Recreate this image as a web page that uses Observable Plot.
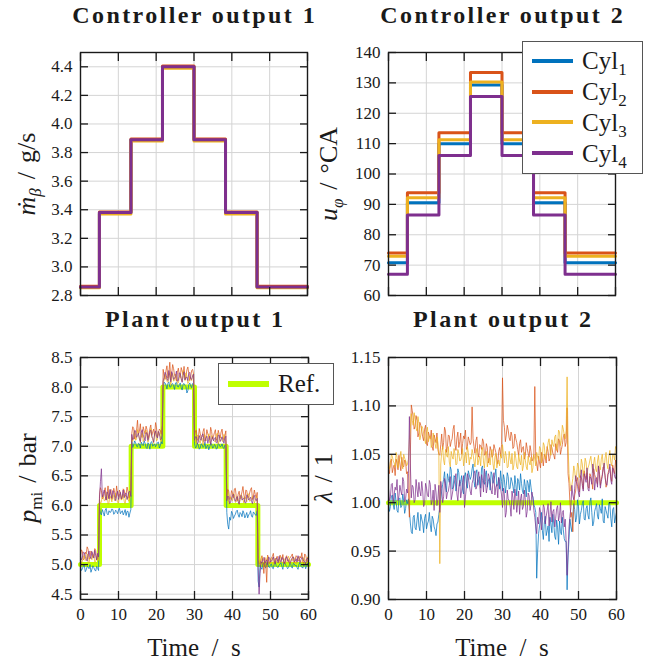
<!DOCTYPE html>
<html><head><meta charset="utf-8">
<script src="https://cdn.jsdelivr.net/npm/d3@7"></script>
<script src="https://cdn.jsdelivr.net/npm/@observablehq/plot@0.6"></script>
<style>
body{margin:0;background:#fff;}
#fig{position:relative;width:662px;height:665px;background:#fff;font-family:"Liberation Serif",serif;color:#1a1a1a;overflow:hidden}
.panel{position:absolute}
.title{position:absolute;width:300px;text-align:center;font-weight:bold;font-size:24px;line-height:24px;letter-spacing:2.4px;white-space:nowrap}
.xlab{position:absolute;width:200px;text-align:center;font-size:25px;line-height:25px;white-space:nowrap}
.ylab{position:absolute;font-size:26px;line-height:26px;white-space:nowrap;transform:translate(-50%,-50%) rotate(-90deg)}
.sub{font-size:17px;position:relative;top:6px}
.sp{display:inline-block;width:9px}
.box{position:absolute;box-sizing:border-box;background:#fff;border:1px solid #555}
.lkey{position:absolute;height:4px}
.ltxt{position:absolute;font-size:25px;line-height:25px;white-space:nowrap}
</style></head>
<body><div id="fig"></div>
<script>
// ---------- data ----------
const cylNames = ["Cyl1","Cyl2","Cyl3","Cyl4"];
const cylColors = ["#0072BD","#D95319","#EDB120","#7E2F8E"];
const refColor = "#BFFF00";

const xTicks = [0,10,20,30,40,50,60];
const mBetaTicks = [2.8,3.0,3.2,3.4,3.6,3.8,4.0,4.2,4.4];
const uPhiTicks = [60,70,80,90,100,110,120,130,140];
const pmiTicks = [4.5,5.0,5.5,6.0,6.5,7.0,7.5,8.0,8.5];
const lambdaTicks = [0.90,0.95,1.00,1.05,1.10,1.15];

// controller outputs: step breakpoints (value held until next breakpoint)
const stepTimes = [0,5,13.33,21.67,30,38.33,46.67,60];
const mBetaCyl1 = [2.86,3.38,3.89,4.40,3.89,3.38,2.86,2.86];
const mBetaCyl2 = [2.865,3.385,3.895,4.405,3.895,3.385,2.865,2.865];
const mBetaCyl3 = [2.855,3.37,3.88,4.39,3.88,3.37,2.855,2.855];
const mBetaCyl4 = [2.86,3.38,3.89,4.40,3.89,3.38,2.86,2.86];

const uPhiCyl1 = [70.8,90.5,110.0,129.3,110.0,90.5,70.8,70.8];
const uPhiCyl2 = [74.0,93.8,113.6,133.4,113.6,93.8,74.0,74.0];
const uPhiCyl3 = [72.9,92.2,111.3,130.3,111.3,92.2,72.9,72.9];
const uPhiCyl4 = [67.0,86.5,106.1,125.5,106.1,86.5,67.0,67.0];

// references
const refPmi = [5,6,7,8,7,6,5,5];
const refLambdaTimes = [0,60];
const refLambda = [1,1];

// plant outputs: samples on the half-second grid and on the quarter-second points between them
const sampleTimes = [0,0.5,1,1.5,2,2.5,3,3.5,4,4.5,5,5.5,6,6.5,7,7.5,8,8.5,9,9.5,10,10.5,11,11.5,12,12.5,13,13.5,14,14.5,15,15.5,16,16.5,17,17.5,18,18.5,19,19.5,20,20.5,21,21.5,22,22.5,23,23.5,24,24.5,25,25.5,26,26.5,27,27.5,28,28.5,29,29.5,30,30.5,31,31.5,32,32.5,33,33.5,34,34.5,35,35.5,36,36.5,37,37.5,38,38.5,39,39.5,40,40.5,41,41.5,42,42.5,43,43.5,44,44.5,45,45.5,46,46.5,47,47.5,48,48.5,49,49.5,50,50.5,51,51.5,52,52.5,53,53.5,54,54.5,55,55.5,56,56.5,57,57.5,58,58.5,59,59.5,60];
const midTimes = [0.25,0.75,1.25,1.75,2.25,2.75,3.25,3.75,4.25,4.75,5.25,5.75,6.25,6.75,7.25,7.75,8.25,8.75,9.25,9.75,10.25,10.75,11.25,11.75,12.25,12.75,13.25,13.75,14.25,14.75,15.25,15.75,16.25,16.75,17.25,17.75,18.25,18.75,19.25,19.75,20.25,20.75,21.25,21.75,22.25,22.75,23.25,23.75,24.25,24.75,25.25,25.75,26.25,26.75,27.25,27.75,28.25,28.75,29.25,29.75,30.25,30.75,31.25,31.75,32.25,32.75,33.25,33.75,34.25,34.75,35.25,35.75,36.25,36.75,37.25,37.75,38.25,38.75,39.25,39.75,40.25,40.75,41.25,41.75,42.25,42.75,43.25,43.75,44.25,44.75,45.25,45.75,46.25,46.75,47.25,47.75,48.25,48.75,49.25,49.75,50.25,50.75,51.25,51.75,52.25,52.75,53.25,53.75,54.25,54.75,55.25,55.75,56.25,56.75,57.25,57.75,58.25,58.75,59.25,59.75];

const pmiCyl1 = [4.97,4.93,4.99,4.91,4.96,5.00,4.92,4.95,4.89,4.94,
5.96,5.84,5.88,5.92,5.86,5.91,5.89,5.93,5.87,5.90,5.92,5.86,5.91,5.88,5.83,5.90,5.87,
7.08,7.02,7.06,6.99,7.04,7.07,7.01,7.05,6.96,7.03,7.06,7.00,7.04,7.02,7.07,7.01,7.04,
8.08,8.03,8.06,8.00,8.05,8.02,8.07,8.01,8.04,7.99,8.05,8.03,7.90,8.04,8.02,8.06,
7.04,6.99,7.02,6.97,7.03,7.00,6.96,7.02,6.99,7.04,6.98,7.01,6.97,7.03,7.00,6.98,7.02,
5.88,5.60,5.75,5.86,5.82,5.90,5.84,5.88,5.81,5.87,5.83,5.79,5.86,5.82,5.89,5.84,5.91,
4.62,4.95,5.01,4.97,5.03,4.96,5.00,4.94,5.02,4.98,4.95,5.01,4.97,5.04,4.99,4.93,5.00,4.96,5.02,4.98,4.95,5.01,4.97,4.94,5.00,4.98,4.96];
const pmiCyl1Mid = [4.90,4.98,4.88,4.97,4.93,4.87,4.98,4.91,4.97,4.90,
5.87,5.93,5.82,5.95,5.84,5.88,5.94,5.85,5.92,5.86,5.95,5.89,5.84,5.93,5.90,5.80,5.93,
6.98,7.09,7.00,7.05,6.97,7.03,7.09,6.98,7.06,6.95,7.08,7.02,6.99,7.06,6.97,7.08,
7.98,8.07,7.97,8.09,8.00,8.06,7.96,8.08,8.00,8.07,7.95,8.06,8.01,7.94,8.07,7.99,8.04,
6.97,7.05,6.95,7.04,6.98,7.06,7.00,6.94,7.05,6.97,7.03,6.95,7.05,6.99,7.04,6.96,7.00,
5.68,5.80,5.90,5.78,5.85,5.92,5.80,5.86,5.91,5.79,5.88,5.84,5.91,5.80,5.87,5.83,
4.72,4.99,4.92,5.02,4.94,5.03,4.95,5.01,4.93,5.04,4.96,4.99,5.03,4.92,5.02,4.97,4.95,5.03,4.94,5.01,4.99,4.92,5.03,4.96,5.01,4.93,5.02];

const pmiCyl2 = [5.14,5.22,5.10,5.18,5.26,5.12,5.20,5.15,5.24,5.11,
6.18,6.25,6.14,6.30,6.20,6.12,6.27,6.17,6.22,6.33,6.15,6.21,6.13,6.26,6.19,6.24,6.16,
7.22,7.30,7.18,7.44,7.25,7.16,7.33,7.21,7.28,7.19,7.36,7.24,7.17,7.31,7.22,7.27,7.35,
8.20,8.28,8.15,8.42,8.22,8.31,8.17,8.25,8.19,8.33,8.21,8.14,8.29,8.23,8.18,8.30,
7.18,7.27,7.12,7.22,7.16,7.30,7.14,7.21,7.11,7.25,7.17,7.28,7.13,7.20,7.24,7.15,7.19,
6.16,6.24,6.12,6.20,6.28,6.14,6.19,6.11,6.23,6.17,6.26,6.13,6.21,6.30,6.15,6.18,6.22,
5.02,5.10,5.06,5.12,4.70,5.05,5.09,5.14,5.04,5.11,5.07,5.16,5.08,5.03,5.12,5.06,5.10,5.15,5.05,5.09,5.13,5.07,5.11,5.04,5.18,5.08,5.12];
const pmiCyl2Mid = [5.25,5.08,5.21,5.30,5.09,5.23,5.12,5.27,5.08,5.20,
6.30,6.11,6.24,6.09,6.33,6.21,6.10,6.29,6.13,6.20,6.26,6.10,6.28,6.15,6.31,6.12,6.27,
7.33,7.12,7.27,7.20,7.38,7.15,7.26,7.34,7.13,7.30,7.18,7.29,7.40,7.16,7.29,7.20,
8.30,8.13,8.36,8.24,8.12,8.38,8.20,8.10,8.32,8.16,8.27,8.35,8.18,8.34,8.11,8.28,8.22,
7.26,7.10,7.30,7.14,7.25,7.09,7.28,7.16,7.32,7.12,7.23,7.10,7.27,7.14,7.29,7.11,7.26,
6.27,6.10,6.25,6.13,6.29,6.08,6.24,6.16,6.32,6.11,6.25,6.14,6.27,6.10,6.26,6.13,
5.13,5.00,5.15,4.85,5.00,5.16,5.02,5.12,5.19,5.03,5.14,5.05,5.13,5.17,5.01,5.15,5.04,5.12,5.18,5.03,5.15,5.06,5.14,5.20,5.02,5.16,5.05];

const pmiCyl3 = [5.10,5.06,5.15,5.09,5.04,5.13,5.08,5.17,5.05,5.11,
6.10,6.06,6.15,6.09,6.22,6.05,6.12,6.18,6.08,6.14,6.04,6.20,6.11,6.07,6.16,6.10,6.13,
7.15,7.22,7.10,7.28,7.14,7.19,7.08,7.24,7.16,7.12,7.30,7.13,7.20,7.09,7.25,7.17,7.21,
8.12,8.18,8.08,8.25,8.14,8.10,8.22,8.06,8.17,8.13,8.28,8.11,8.19,8.09,8.15,8.20,
7.12,7.08,7.17,7.05,7.14,7.20,7.09,7.13,7.06,7.18,7.11,7.07,7.22,7.10,7.15,7.08,7.13,
6.10,6.05,6.14,6.08,6.18,6.06,6.12,6.09,6.16,6.04,6.13,6.20,6.07,6.11,6.15,6.08,6.12,
5.05,5.00,5.08,5.03,5.10,5.06,5.02,5.12,5.07,5.04,5.09,5.14,5.05,5.08,5.03,5.11,5.06,5.09,5.13,5.04,5.08,5.10,5.05,5.12,5.07,5.03,5.09];
const pmiCyl3Mid = [5.02,5.14,5.07,5.18,5.03,5.12,5.16,5.04,5.14,5.07,
6.03,6.17,6.08,6.20,6.02,6.16,6.06,6.13,6.21,6.05,6.17,6.09,6.19,6.03,6.14,6.07,6.18,
7.08,7.26,7.12,7.20,7.06,7.23,7.13,7.27,7.07,7.21,7.15,7.05,7.24,7.11,7.19,7.08,
8.05,8.21,8.10,8.17,8.04,8.23,8.12,8.19,8.07,8.22,8.09,8.16,8.24,8.06,8.18,8.11,8.23,
7.06,7.19,7.09,7.15,7.03,7.18,7.11,7.21,7.05,7.16,7.08,7.19,7.04,7.17,7.09,7.20,7.07,
6.16,6.03,6.11,6.20,6.05,6.15,6.02,6.18,6.10,6.14,6.06,6.19,6.08,6.16,6.04,6.15,
5.12,5.04,5.13,5.08,5.01,5.14,5.05,5.09,5.00,5.11,5.06,5.02,5.12,5.03,5.10,5.05,5.14,5.02,5.07,5.11,5.01,5.13,5.06,5.03,5.11,5.08,5.13];

const pmiCyl4 = [5.16,5.12,5.20,5.09,5.17,5.13,5.22,5.11,5.15,5.19,
6.12,6.62,6.20,6.15,6.23,6.11,6.18,6.25,6.14,6.19,6.10,6.22,6.16,6.13,6.21,6.17,6.24,
7.20,7.14,7.26,7.18,7.12,7.24,7.19,7.09,7.22,7.16,7.27,7.13,7.21,7.17,7.25,7.11,7.19,
8.16,8.22,8.11,8.19,8.26,8.13,8.18,8.10,8.24,8.15,8.20,8.12,8.17,8.23,8.14,8.19,
7.10,7.16,7.07,7.13,7.19,7.08,7.14,7.05,7.17,7.11,7.09,7.15,7.06,7.18,7.12,7.10,7.14,
6.08,6.14,6.05,6.17,6.10,6.12,6.06,6.15,6.09,6.13,6.04,6.16,6.11,6.07,6.14,6.10,6.12,
4.50,5.05,5.10,5.02,5.08,5.13,5.04,5.09,5.06,5.11,5.03,5.08,5.12,5.05,5.10,5.07,5.02,5.09,5.13,5.06,5.04,5.10,5.08,5.11,5.05,5.09,5.07];
const pmiCyl4Mid = [5.08,5.21,5.14,5.06,5.23,5.10,5.16,5.24,5.08,5.13,
6.40,6.14,6.26,6.09,6.19,6.27,6.12,6.22,6.08,6.24,6.17,6.11,6.26,6.20,6.10,6.23,6.15,
7.11,7.27,7.15,7.22,7.08,7.28,7.14,7.23,7.10,7.25,7.18,7.07,7.26,7.14,7.22,7.12,
8.10,8.25,8.14,8.28,8.09,8.21,8.15,8.27,8.11,8.23,8.08,8.26,8.16,8.11,8.25,8.13,8.22,
7.16,7.04,7.18,7.10,7.21,7.06,7.17,7.12,7.03,7.16,7.13,7.06,7.19,7.08,7.16,7.05,7.17,
6.16,6.03,6.12,6.19,6.07,6.15,6.02,6.17,6.11,6.05,6.18,6.09,6.14,6.03,6.17,6.08,
4.95,4.85,5.02,5.12,5.05,5.00,5.11,5.06,5.13,5.01,5.09,5.14,5.04,5.11,5.02,5.13,5.08,5.03,5.12,5.05,5.10,5.15,5.03,5.12,5.06,5.01,5.11];

const lambdaCyl1 = [1.003,0.996,1.008,0.993,1.001,0.990,1.005,0.997,1.002,0.994,
0.999,0.992,0.970,0.985,0.974,0.982,0.976,0.988,0.979,0.984,0.973,0.981,0.977,0.986,0.975,0.966,0.980,
0.995,1.012,1.024,1.018,1.030,1.021,1.034,1.016,1.026,1.019,1.031,1.022,1.013,1.027,1.020,1.033,1.024,
1.035,1.022,1.030,1.018,1.027,1.036,1.021,1.029,1.016,1.025,1.032,1.020,1.028,1.017,1.026,1.033,
1.012,1.024,1.018,1.027,1.015,1.022,1.010,1.019,1.025,1.013,1.020,1.009,1.017,1.023,1.011,1.016,1.006,
0.995,0.922,0.968,0.983,0.971,0.979,0.966,0.976,0.985,0.969,0.978,0.962,0.974,0.981,0.967,0.972,0.960,
0.910,0.962,0.975,0.986,0.993,0.985,0.996,0.988,0.999,0.983,0.994,0.987,1.001,0.990,0.980,0.995,0.986,0.998,0.989,0.981,0.996,0.988,1.000,0.984,0.993,0.979,0.990];
const lambdaCyl1Mid = [0.991,1.006,0.998,1.010,0.992,1.004,0.995,1.009,0.989,1.003,
1.004,0.979,0.968,0.987,0.972,0.990,0.971,0.983,0.969,0.988,0.978,0.990,0.970,0.983,0.972,0.978,0.988,
1.003,1.019,1.032,1.011,1.025,1.037,1.014,1.028,1.012,1.035,1.017,1.028,1.009,1.031,1.015,1.029,
1.027,1.040,1.016,1.034,1.024,1.015,1.038,1.019,1.033,1.022,1.013,1.029,1.024,1.035,1.019,1.014,1.022,
1.029,1.010,1.031,1.014,1.026,1.017,1.028,1.007,1.022,1.030,1.012,1.024,1.006,1.020,1.024,1.008,0.998,
0.990,0.950,0.976,0.990,0.962,0.986,0.971,0.960,0.978,0.988,0.965,0.982,0.957,0.970,0.985,0.963,
0.960,0.945,0.983,0.970,0.999,0.980,1.003,0.978,0.992,1.002,0.982,0.997,0.983,1.005,0.976,0.991,0.999,0.983,0.994,1.004,0.979,0.992,0.984,0.998,0.975,0.995,0.985];

const lambdaCyl2 = [1.036,1.042,1.031,1.039,1.045,1.034,1.040,1.047,1.037,1.043,
1.032,0.985,1.101,1.088,1.079,1.085,1.072,1.080,1.068,1.076,1.061,1.073,1.066,1.058,1.070,1.062,1.055,
1.049,1.071,1.062,1.074,1.058,1.069,1.063,1.076,1.060,1.067,1.057,1.072,1.061,1.066,1.055,1.068,1.060,
1.099,1.058,1.064,1.052,1.060,1.055,1.063,1.050,1.057,1.046,1.054,1.049,1.056,1.045,1.053,1.048,
1.129,1.078,1.070,1.075,1.064,1.069,1.058,1.066,1.055,1.061,1.052,1.058,1.049,1.056,1.047,1.053,1.045,
1.120,1.040,1.048,1.036,1.045,1.050,1.041,1.053,1.046,1.057,1.049,1.061,1.052,1.064,1.055,1.068,1.058,
1.098,1.020,0.985,0.970,1.008,1.022,1.015,1.028,1.020,1.033,1.024,1.017,1.030,1.022,1.035,1.026,1.019,1.032,1.024,1.037,1.028,1.021,1.034,1.027,1.039,1.030,1.036];
const lambdaCyl2Mid = [1.030,1.045,1.036,1.028,1.041,1.049,1.033,1.038,1.044,1.030,
1.010,1.050,1.095,1.076,1.090,1.068,1.083,1.074,1.064,1.080,1.059,1.069,1.075,1.054,1.066,1.072,1.050,
1.060,1.055,1.078,1.052,1.070,1.058,1.066,1.080,1.054,1.073,1.063,1.050,1.069,1.075,1.058,1.064,
1.062,1.066,1.051,1.068,1.047,1.059,1.066,1.049,1.061,1.041,1.058,1.047,1.060,1.052,1.040,1.057,1.060,
1.085,1.063,1.080,1.067,1.073,1.056,1.071,1.062,1.049,1.065,1.057,1.045,1.062,1.051,1.059,1.043,1.050,
1.045,1.033,1.041,1.052,1.038,1.047,1.058,1.043,1.060,1.051,1.045,1.056,1.066,1.050,1.060,1.071,
1.062,1.030,1.000,0.990,0.995,1.012,1.026,1.011,1.026,1.014,1.028,1.031,1.015,1.027,1.014,1.029,1.022,1.038,1.018,1.029,1.033,1.016,1.030,1.037,1.022,1.033,1.044];

const lambdaCyl3 = [1.044,1.038,1.048,1.041,1.052,1.036,1.046,1.040,1.050,1.043,
1.040,1.065,1.092,1.080,1.086,1.074,1.082,1.070,1.077,1.066,1.073,1.063,1.069,1.060,1.066,1.056,1.062,
0.937,1.052,1.044,1.055,1.047,1.042,1.053,1.045,1.050,1.040,1.051,1.044,1.056,1.046,1.041,1.052,1.047,
1.055,1.043,1.050,1.039,1.048,1.053,1.042,1.049,1.037,1.046,1.051,1.040,1.047,1.036,1.044,1.050,
1.060,1.041,1.048,1.037,1.045,1.051,1.039,1.046,1.035,1.043,1.049,1.038,1.044,1.034,1.042,1.047,1.036,
1.045,1.052,1.044,1.056,1.048,1.059,1.051,1.062,1.054,1.065,1.058,1.070,1.061,1.073,1.064,1.076,1.066,
1.130,1.030,1.012,1.025,1.033,1.028,1.037,1.031,1.040,1.034,1.042,1.036,1.044,1.038,1.041,1.035,1.043,1.037,1.045,1.039,1.046,1.040,1.048,1.042,1.050,1.044,1.055];
const lambdaCyl3Mid = [1.035,1.050,1.043,1.037,1.047,1.042,1.053,1.035,1.046,1.038,
1.045,1.078,1.085,1.093,1.077,1.089,1.065,1.079,1.072,1.061,1.078,1.068,1.057,1.072,1.061,1.068,1.050,
1.040,1.058,1.039,1.049,1.058,1.037,1.048,1.056,1.039,1.055,1.043,1.048,1.038,1.052,1.058,1.039,
1.045,1.050,1.037,1.056,1.044,1.038,1.057,1.036,1.053,1.043,1.039,1.055,1.034,1.051,1.041,1.038,1.046,
1.050,1.053,1.036,1.053,1.040,1.034,1.053,1.037,1.050,1.039,1.033,1.052,1.037,1.048,1.039,1.031,1.050,
1.038,1.047,1.058,1.041,1.062,1.045,1.055,1.066,1.049,1.060,1.068,1.054,1.075,1.059,1.080,1.070,
1.074,1.060,1.020,1.018,1.038,1.022,1.041,1.026,1.045,1.027,1.046,1.029,1.039,1.048,1.031,1.047,1.032,1.049,1.034,1.050,1.036,1.052,1.035,1.054,1.038,1.049,1.058];

const lambdaCyl4 = [1.015,1.006,1.020,1.009,1.013,1.002,1.018,1.008,1.022,1.004,
1.010,1.089,1.005,1.016,1.003,1.014,1.021,1.007,1.012,0.999,1.015,1.006,1.019,1.002,0.992,1.011,1.004,
0.990,1.015,1.006,1.020,1.010,1.018,1.003,1.014,1.024,1.009,1.017,1.005,1.021,0.995,1.016,1.026,1.012,
1.020,1.030,1.014,1.025,1.018,1.029,1.011,1.022,1.016,1.027,1.013,1.024,1.008,1.019,1.026,1.015,
0.995,1.008,0.990,1.004,0.997,1.012,0.993,1.006,1.000,0.988,1.009,0.996,1.003,0.991,1.007,0.998,1.005,
0.985,0.968,0.978,0.990,0.982,0.995,0.986,0.999,0.988,0.980,0.993,0.984,0.997,0.987,0.979,0.992,0.983,
0.925,0.975,0.995,1.008,1.015,1.022,1.010,1.025,1.018,1.030,1.021,1.014,1.027,1.019,1.033,1.024,1.016,1.029,1.022,1.035,1.026,1.018,1.031,1.023,1.036,1.027,1.032];
const lambdaCyl4Mid = [1.002,1.019,1.000,1.016,1.024,1.007,1.012,1.026,1.001,1.014,
1.030,1.040,1.018,1.000,1.024,1.006,1.012,1.022,0.996,1.020,1.008,1.023,0.998,1.013,1.019,0.997,1.018,
1.022,1.000,1.025,1.004,1.012,1.027,1.008,1.019,1.030,1.002,1.023,1.012,1.028,1.006,1.030,1.019,
1.008,1.024,1.033,1.017,1.032,1.006,1.023,1.035,1.010,1.030,1.021,1.009,1.031,1.016,1.005,1.022,1.008,
1.015,0.985,1.013,1.002,0.986,1.005,1.014,0.990,1.012,1.004,0.993,1.013,0.985,1.010,0.992,1.011,0.992,
0.975,0.985,0.995,0.972,0.998,0.978,0.992,0.976,1.001,0.991,0.975,0.994,0.981,1.000,0.990,0.975,
0.960,0.950,0.986,1.018,1.003,1.028,1.017,1.006,1.034,1.012,1.025,1.036,1.012,1.025,1.040,1.013,1.026,1.038,1.015,1.027,1.041,1.020,1.029,1.040,1.019,1.034,1.025];

// ---------- helpers ----------
const rows = (ts, vs) => ts.map((t, i) => ({t, v: vs[i]}));
const merged = (a, b) => [...rows(sampleTimes, a), ...rows(midTimes, b)].sort((p, q) => p.t - q.t);
const fig = document.getElementById("fig");

function panel({left, top, width, height, ml, mr, mt, mb, yDomain, yTicks, yFmt, showX, marks}) {
  const svg = Plot.plot({
    width, height, marginLeft: ml, marginRight: mr, marginTop: mt, marginBottom: mb,
    x: {domain: [0, 60]},
    y: {domain: yDomain},
    style: {fontFamily: '"Liberation Serif", serif', fontSize: "17px", color: "#1a1a1a", background: "transparent", overflow: "visible"},
    marks: [
      Plot.gridX(xTicks, {stroke: "#d4d4d4", strokeOpacity: 1, strokeWidth: 1}),
      Plot.gridY(yTicks, {stroke: "#d4d4d4", strokeOpacity: 1, strokeWidth: 1}),
      ...marks,
      Plot.axisX(xTicks, {anchor: "bottom", tickSize: -8, tickPadding: 16, strokeWidth: 1.3, tickFormat: showX ? d3.format("d") : () => "", label: null}),
      Plot.axisX(xTicks, {anchor: "top", tickSize: -8, strokeWidth: 1.3, tickFormat: () => "", label: null}),
      Plot.axisY(yTicks, {anchor: "left", tickSize: -8, tickPadding: 16, strokeWidth: 1.3, tickFormat: yFmt, label: null}),
      Plot.axisY(yTicks, {anchor: "right", tickSize: -8, strokeWidth: 1.3, tickFormat: () => "", label: null}),
      Plot.frame({stroke: "#1a1a1a", strokeWidth: 1.4})
    ]
  });
  const wrap = document.createElement("div");
  wrap.className = "panel";
  wrap.style.left = left + "px";
  wrap.style.top = top + "px";
  wrap.appendChild(svg);
  fig.appendChild(wrap);
}

const stepLines = (series) => series.map((vals, k) =>
  Plot.line(rows(stepTimes, vals), {x: "t", y: "v", stroke: cylColors[k], strokeWidth: 3, curve: "step-after"}));
const noisyLines = (pairs) => pairs.map(([a, b], k) =>
  Plot.line(merged(a, b), {x: "t", y: "v", stroke: cylColors[k], strokeWidth: 1, strokeOpacity: 0.72}));

// ---------- panels ----------
panel({left: 0, top: 40, width: 330, height: 270, ml: 80, mr: 23, mt: 12, mb: 15,
  yDomain: [2.8, 4.5], yTicks: mBetaTicks, yFmt: d3.format(".1f"), showX: false,
  marks: stepLines([mBetaCyl1, mBetaCyl2, mBetaCyl3, mBetaCyl4])});

panel({left: 330, top: 40, width: 332, height: 270, ml: 58, mr: 47, mt: 12, mb: 15,
  yDomain: [60, 140], yTicks: uPhiTicks, yFmt: d3.format("d"), showX: false,
  marks: stepLines([uPhiCyl1, uPhiCyl2, uPhiCyl3, uPhiCyl4])});

panel({left: 0, top: 345, width: 330, height: 320, ml: 80, mr: 22, mt: 12, mb: 66,
  yDomain: [4.41, 8.5], yTicks: pmiTicks, yFmt: d3.format(".1f"), showX: true,
  marks: [Plot.line(rows(stepTimes, refPmi), {x: "t", y: "v", stroke: refColor, strokeWidth: 5, curve: "step-after"}),
          ...noisyLines([[pmiCyl1, pmiCyl1Mid], [pmiCyl2, pmiCyl2Mid], [pmiCyl3, pmiCyl3Mid], [pmiCyl4, pmiCyl4Mid]])]});

panel({left: 330, top: 345, width: 332, height: 320, ml: 58, mr: 46, mt: 12, mb: 66,
  yDomain: [0.90, 1.15], yTicks: lambdaTicks, yFmt: d3.format(".2f"), showX: true,
  marks: [Plot.line(rows(refLambdaTimes, refLambda), {x: "t", y: "v", stroke: refColor, strokeWidth: 5}),
          ...noisyLines([[lambdaCyl1, lambdaCyl1Mid], [lambdaCyl2, lambdaCyl2Mid], [lambdaCyl3, lambdaCyl3Mid], [lambdaCyl4, lambdaCyl4Mid]])]});

// ---------- text ----------
function add(cls, html, css) {
  const d = document.createElement("div");
  d.className = cls;
  d.innerHTML = html;
  Object.assign(d.style, css);
  fig.appendChild(d);
  return d;
}
const titles = [["Controller output 1", 193.5, 3.2], ["Controller output 2", 501.5, 3.2],
                ["Plant output 1", 194, 307.4], ["Plant output 2", 502, 307.4]];
titles.forEach(([t, cx, top]) => add("title", t, {left: (cx - 150 + 1.2) + "px", top: top + "px"}));

add("xlab", "Time&ensp;/&ensp;s", {left: (194 - 100) + "px", top: "635.1px"});
add("xlab", "Time&ensp;/&ensp;s", {left: (502 - 100) + "px", top: "635.1px"});

const sp = '<span class="sp"></span>';
add("ylab", '<i>ṁ</i><span class="sub"><i>β</i></span>' + sp + '/' + sp + 'g/s', {left: "28.2px", top: "173.5px"});
add("ylab", '<i>u</i><span class="sub"><i>φ</i></span>' + sp + '/' + sp + '°CA', {left: "329.6px", top: "173.5px"});
add("ylab", '<i>p</i><span class="sub">mi</span>' + sp + '/' + sp + 'bar', {left: "29.2px", top: "478px"});
add("ylab", '<i>λ</i>' + sp + '/' + sp + '1', {left: "324.2px", top: "478px"});

// legend: cylinders
add("box", "", {left: "522px", top: "41px", width: "121px", height: "133px"});
const rowY = [61, 91.7, 122.4, 153.1];
cylNames.forEach((n, k) => {
  add("lkey", "", {left: "532px", top: (rowY[k] - 2) + "px", width: "41px", background: cylColors[k]});
  add("ltxt", 'Cyl<span class="sub">' + n.slice(3) + '</span>', {left: "582px", top: (rowY[k] - 12.6) + "px"});
});
// legend: reference
add("box", "", {left: "218px", top: "363px", width: "116px", height: "42px"});
add("lkey", "", {left: "228px", top: "381px", width: "41px", height: "6px", background: refColor});
add("ltxt", "Ref.", {left: "278px", top: "371.4px"});
</script>
</body></html>
